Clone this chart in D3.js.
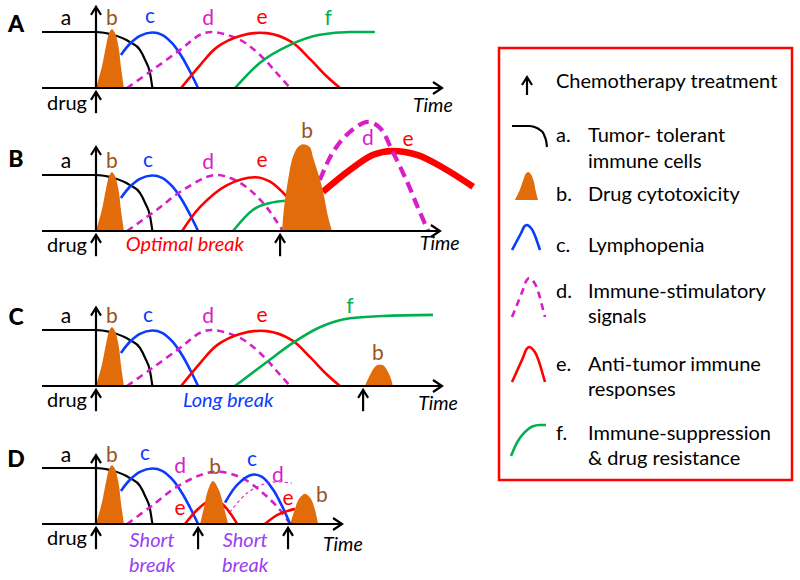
<!DOCTYPE html>
<html><head><meta charset="utf-8">
<script src="https://cdn.jsdelivr.net/npm/d3@7"></script>
<style>body{margin:0;background:#fff}svg{display:block}text{font-family:Lato,"Open Sans",sans-serif}</style>
</head><body><svg id="c" width="800" height="580"></svg>
<script>
// ---------- data (time units 0..100, level units: 1 = baseline immune level) ----------
const tolerance = [[-15.6,1],[0,1],[4.9,0.95],[9.8,0.82],[12.7,0.68],[14.2,0.5],[15.6,0.27],[16.3,0]];
const drugPulse = [[0,0],[1.7,0.38],[2.9,0.75],[3.8,0.98],[4.6,1.05],[5.5,0.98],[6.6,0.7],[7.2,0.38],[8.1,0]];
const lymphopenia = [[7.2,0.59],[9.8,0.79],[12.7,0.93],[16.2,0.99],[19.1,0.95],[22.0,0.8],[24.9,0.55],[27.2,0.29],[29.5,0]];
const stimulatory = [[9.0,0],[15.6,0.29],[24.3,0.68],[30.1,0.95],[33.8,1.0],[41.6,0.86],[47.4,0.59],[53.2,0.2],[56.1,0]];
const antiTumor = [[24.6,0],[30.1,0.41],[35.0,0.73],[41.6,0.93],[49.4,0.98],[56.6,0.82],[61.8,0.52],[66.8,0.2],[70.5,0]];
const suppressionA = [[40.2,0],[47.4,0.45],[56.1,0.77],[64.7,0.95],[73.4,1.0],[80.6,1.0]];

const stimulatoryB = [[9.0,0],[17.6,0.38],[25.1,0.73],[34.4,1.0],[41.6,0.86],[48.3,0.5],[54.0,0]];
const antiTumorB = [[24.9,0],[30.1,0.43],[37.9,0.82],[46.0,0.96],[50.3,0.88],[55.2,0.61]];
const suppressionB = [[39.6,0],[45.4,0.38],[50.3,0.5],[54.6,0.54]];
const drugPulseB2 = [[53.8,0],[54.3,0.39],[55.2,0.79],[56.9,1.32],[58.4,1.5],[59.8,1.55],[61.8,1.5],[62.7,1.32],[65.3,0.79],[67.1,0.25],[68.2,0]];
const stimulatoryB2 = [[64.7,0.91],[68.5,1.41],[73.4,1.77],[78.6,1.95],[82.1,1.84],[85.8,1.41],[89.9,0.88],[93.1,0.41],[96.0,0]];
const antiTumorB2 = [[65.6,0.7],[73.4,1.09],[80.1,1.36],[85.5,1.43],[92.8,1.36],[100.3,1.13],[109.0,0.79]];

const suppressionC = [[40.2,0],[49.4,0.43],[56.9,0.77],[64.7,1.05],[73.4,1.21],[82.9,1.25],[97.4,1.27]];
const drugPulseC2 = [[77.7,0],[78.9,0.16],[80.1,0.3],[81.2,0.37],[82.1,0.38],[83.2,0.36],[84.4,0.25],[85.3,0.12],[85.8,0]];

const stimulatoryD = [[9.0,0],[15.6,0.3],[24.3,0.7],[33.8,0.93],[41.6,0.84],[48.3,0.55],[53.2,0.25],[56.1,0]];
const antiTumorD1 = [[25.7,0],[29.2,0.25],[32.1,0.39],[34.1,0.41],[36.4,0.36],[38.7,0.2],[40.8,0]];
const drugPulseD2 = [[30.1,0],[31.2,0.29],[32.4,0.61],[33.8,0.77],[35.5,0.61],[37.0,0.29],[38.2,0]];
const lymphopeniaD2 = [[37.3,0.38],[40.8,0.7],[45.1,0.88],[48.0,0.84],[51.2,0.61],[54.0,0.29],[56.1,0]];
const stimulatoryD2 = [[38.7,0.21],[43.6,0.55],[49.4,0.73],[53.2,0.75],[56.6,0.73]];
const antiTumorD2 = [[48.8,0],[52.3,0.16],[55.2,0.23],[57.5,0.27]];
const drugPulseD3 = [[56.1,0],[57.2,0.21],[58.7,0.45],[60.4,0.54],[62.1,0.45],[63.3,0.25],[64.2,0]];

const treatmentsA = [0];
const treatmentsB = [0, 53.2];
const treatmentsC = [0, 77.2];
const treatmentsD = [0, 29.5, 55.5];

const legendItems = ["Chemotherapy treatment","a.","b.","c.","d.","e.","f."];
const legendTexts = [["Tumor- tolerant","immune cells"],["Drug cytotoxicity"],["Lymphopenia"],["Immune-stimulatory","signals"],["Anti-tumor immune","responses"],["Immune-suppression","& drug resistance"]];

// ---------- styles ----------
const C = {black:"#000", orange:"#E36C0A", brown:"#9A5320", blue:"#0A3CFF", mag:"#D81EC8", red:"#FF0000", green:"#00B050", purple:"#9A40F0"};
const S = {
  tol:{stroke:C.black,w:2.2,mono:true}, lym:{stroke:C.blue,w:2.6}, stim:{stroke:C.mag,w:2.6,dash:"7,5"},
  stimThick:{stroke:C.mag,w:4.2,dash:"11,6"}, stimThin:{stroke:C.mag,w:1.1,dash:"3,3"},
  anti:{stroke:C.red,w:2.6}, antiThick:{stroke:C.red,w:6.5}, sup:{stroke:C.green,w:2.6,mono:true}
};

const panels = [
  {key:"A", base:88, axisEnd:100, axisTop:1.45, treat:treatmentsA,
   lines:[[tolerance,"tol"],[lymphopenia,"lym"],[stimulatory,"stim"],[antiTumor,"anti"],[suppressionA,"sup"]],
   areas:[drugPulse],
   labels:[["a",-8.7,1.125,C.black],["b",4.6,1.125,C.brown],["c",15.6,1.16,C.blue],["d",32.4,1.125,C.mag],["e",48.0,1.14,C.red],["f",67.1,1.125,C.green]],
   notes:[], time:[91.6,-0.43], drugV:-0.39, letterDy:56},
  {key:"B", base:231, axisEnd:99.4, axisTop:1.5, treat:treatmentsB,
   lines:[[tolerance,"tol"],[lymphopenia,"lym"],[stimulatoryB,"stim"],[antiTumorB,"anti"],[suppressionB,"sup"],[antiTumorB2,"antiThick"],[stimulatoryB2,"stimThick"]],
   areas:[drugPulse, drugPulseB2],
   labels:[["a",-8.7,1.13,C.black],["b",4.6,1.13,C.brown],["c",15.0,1.14,C.blue],["d",32.4,1.11,C.mag],["e",48.0,1.14,C.red],["b",61.0,1.66,C.brown],["d",78.6,1.54,C.mag],["e",90.2,1.52,C.red]],
   notes:[["Optimal break",25.7,-0.36,C.red]], time:[93.6,-0.34], drugV:-0.37, letterDy:64},
  {key:"C", base:386, axisEnd:100, axisTop:1.4, treat:treatmentsC,
   lines:[[tolerance,"tol"],[lymphopenia,"lym"],[stimulatory,"stim"],[antiTumor,"anti"],[suppressionC,"sup"]],
   areas:[drugPulse, drugPulseC2],
   labels:[["a",-8.7,1.13,C.black],["b",4.6,1.13,C.brown],["c",15.0,1.14,C.blue],["d",32.4,1.13,C.mag],["e",48.0,1.14,C.red],["f",73.4,1.3,C.green],["b",81.5,0.46,C.brown]],
   notes:[["Long break",38.2,-0.37,C.blue]], time:[93.1,-0.43], drugV:-0.37, letterDy:61},
  {key:"D", base:524, axisEnd:71.1, axisTop:1.23, treat:treatmentsD,
   lines:[[tolerance,"tol"],[lymphopenia,"lym"],[stimulatoryD,"stim"],[antiTumorD1,"anti"],[lymphopeniaD2,"lym"],[stimulatoryD2,"stimThin"],[antiTumorD2,"anti"]],
   areas:[drugPulse, drugPulseD2, drugPulseD3],
   labels:[["a",-8.7,1.11,C.black],["b",4.6,1.11,C.brown],["c",14.2,1.14,C.blue],["d",24.3,0.91,C.mag],["b",34.4,0.89,C.brown],["c",45.1,1.04,C.blue],["d",52.6,0.75,C.mag],["e",24.3,0.16,C.red],["e",55.5,0.34,C.red],["b",65.3,0.39,C.brown]],
   notes:[["Short",16.2,-0.41,C.purple],["break",16.2,-0.86,C.purple],["Short",43.1,-0.41,C.purple],["break",43.1,-0.86,C.purple]],
   time:[65.6,-0.48], drugV:-0.38, letterDy:57}
];

// ---------- drawing ----------
const svg = d3.select("#c");
const x = d3.scaleLinear().domain([0,100]).range([96,442]);
const H = 56;
const curve = d3.curveCatmullRom.alpha(0.5);
const curveMono = d3.curveMonotoneX;

function upArrow(g, px, y1, y2, w){
  g.append("line").attr("x1",px).attr("x2",px).attr("y1",y1).attr("y2",y2+1).attr("stroke","#000").attr("stroke-width",w||2.2);
  g.append("path").attr("d",`M${px-5},${y2+8}L${px},${y2}L${px+5},${y2+8}`).attr("fill","none").attr("stroke","#000").attr("stroke-width",w||2.2);
}

panels.forEach(p=>{
  const y = d3.scaleLinear().domain([0,1]).range([p.base, p.base-H]);
  const g = svg.append("g");
  const area = d3.area().x(d=>x(d[0])).y0(y(0)).y1(d=>y(d[1])).curve(curve);
  p.lines.forEach(([data,k])=>{
    const s=S[k];
    const line = d3.line().x(d=>x(d[0])).y(d=>y(d[1])).curve(s.mono?curveMono:curve);
    g.append("path").attr("d",line(data)).attr("fill","none").attr("stroke",s.stroke)
      .attr("stroke-width",s.w).attr("stroke-dasharray",s.dash||null).attr("stroke-linecap","butt");
  });
  p.areas.forEach(data=>{
    g.append("path").attr("d",area(data)).attr("fill",C.orange);
  });
  // axes
  const y0=y(0), x0=x(0), xe=x(p.axisEnd);
  g.append("line").attr("x1",x(-15.6)).attr("x2",xe-1).attr("y1",y0).attr("y2",y0).attr("stroke","#000").attr("stroke-width",2.2);
  g.append("path").attr("d",`M${xe-9},${y0-6}L${xe},${y0}L${xe-9},${y0+6}`).attr("fill","none").attr("stroke","#000").attr("stroke-width",2.2);
  upArrow(g, x0, y0, y(p.axisTop));
  p.treat.forEach(t=> upArrow(g, x(t), y(-0.45), y(-0.07)));
  // labels
  p.labels.forEach(([txt,t,v,col])=>{
    g.append("text").attr("x",x(t)).attr("y",y(v)).attr("text-anchor","middle").attr("fill",col).attr("font-size",21).text(txt);
  });
  p.notes.forEach(([txt,t,v,col])=>{
    g.append("text").attr("x",x(t)).attr("y",y(v)).attr("text-anchor","middle").attr("fill",col).attr("font-size",20).attr("font-style","italic").text(txt);
  });
  g.append("text").attr("x",x(p.time[0])).attr("y",y(p.time[1])).attr("font-size",19.5).attr("font-style","italic").text("Time");
  g.append("text").attr("x",x(-2.6)).attr("y",y(p.drugV)).attr("text-anchor","end").attr("font-size",20).text("drug");
  g.append("text").attr("x",16).attr("y",p.base-p.letterDy).attr("text-anchor","middle").attr("font-size",23).attr("font-weight",900).text(p.key);
});

// ---------- legend ----------
const L = svg.append("g");
L.append("rect").attr("x",499).attr("y",48).attr("width",293).attr("height",432).attr("fill","none").attr("stroke","#FF0000").attr("stroke-width",2.5);
upArrow(L, 527, 95, 77);
L.append("text").attr("x",556).attr("y",88).attr("font-size",20).text(legendItems[0]);

function icon(data, xd, yd, xr, yr, style, isArea){
  const sx=d3.scaleLinear().domain(xd).range(xr), sy=d3.scaleLinear().domain(yd).range(yr);
  if(isArea){
    L.append("path").attr("d",d3.area().x(d=>sx(d[0])).y0(sy(0)).y1(d=>sy(d[1])).curve(curve)(data)).attr("fill",C.orange);
  } else {
    L.append("path").attr("d",d3.line().x(d=>sx(d[0])).y(d=>sy(d[1])).curve(style.mono?curveMono:curve)(data)).attr("fill","none")
     .attr("stroke",style.stroke).attr("stroke-width",style.w).attr("stroke-dasharray",style.dash||null);
  }
}
icon(tolerance,[-15.6,16.3],[0,1],[512,547],[147,126],S.tol);
icon(drugPulse,[0,8.1],[0,1.05],[515,538],[200,172],null,true);
icon(stimulatory,[9,56.1],[0,1],[512,540],[250,225],S.lym);
icon(stimulatory,[9,56.1],[0,1],[512,545],[317,278],S.stim);
icon(stimulatory,[9,56.1],[0,1],[512,545],[382,347],S.anti);
icon(suppressionA,[40.2,80.6],[0,1],[511,546],[456,425],S.sup);

const rows=[[142,168],[201],[252],[298,323],[371,396],[440,465]];
legendTexts.forEach((lines,i)=>{
  L.append("text").attr("x",556).attr("y",rows[i][0]).attr("font-size",20).text(legendItems[i+1]);
  lines.forEach((s,j)=> L.append("text").attr("x",588).attr("y",rows[i][j]).attr("font-size",20).text(s));
});
</script></body></html>
